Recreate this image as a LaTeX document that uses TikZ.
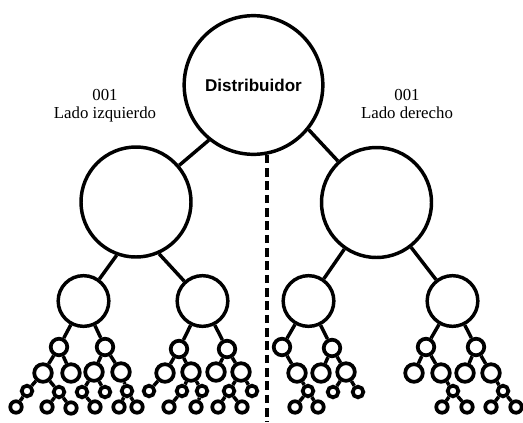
\documentclass[tikz,border=0pt]{standalone}
\usepackage{fontspec}
\setmainfont{Liberation Serif}
\newfontfamily\headsans{Liberation Sans}
\begin{document}
\begin{tikzpicture}[x=0.75pt,y=-0.75pt,
  ring/.style={circle, draw=black, fill=white, inner sep=0pt, line width=2.6pt},
  rootc/.style={ring, minimum size=104pt, font=\headsans\bfseries\fontsize{12.8}{14}\selectfont},
  lvlone/.style={ring, minimum size=82.5pt},
  lvltwo/.style={ring, minimum size=38pt},
  lvlthree/.style={ring, minimum size=12.4pt, line width=2.8pt},
  lvlfour/.style={ring, minimum size=13.2pt, line width=2.8pt},
  lvlfive/.style={ring, minimum size=8pt, line width=2.8pt},
  lvlsix/.style={ring, minimum size=8.6pt, line width=2.8pt},
  link/.style={line width=2.6pt},
  divider/.style={line width=2.7pt, dash pattern=on 6.4pt off 3.6pt},
  sidetext/.style={anchor=base, inner sep=0pt, font=\fontsize{12.6}{14}\selectfont}
]
\useasboundingbox (0,0) rectangle (523,422);

% dividing line between the two halves
\coordinate (dashend) at (266.5,422);

% upper levels
\node[rootc]  (root) at (253.5,85) {Distribuidor};
\node[lvlone] (La)   at (136,202) {};
\node[lvlone] (Lb)   at (376.5,202.5) {};
\node[lvltwo] (a)    at (83.5,301) {};
\node[lvltwo] (b)    at (202.5,301) {};
\node[lvltwo] (c)    at (308.5,301) {};
\node[lvltwo] (d)    at (452.5,301) {};

\draw[divider] (root.-79.5) -- (root.-79.5 |- dashend);

\draw[link] (root.-129) -- (La);
\draw[link] (root.-39)  -- (Lb);
\draw[link] (La.-110) -- (a);
\draw[link] (La.-66)  -- (b);
\draw[link] (Lb) -- (c);
\draw[link] (Lb) -- (d);

% labels of the two sides
\node[sidetext] (lnum) at (105,100) {001};
\node[sidetext] (ltxt) at (105,118) {Lado izquierdo};
\node[sidetext] (rnum) at (407,100) {001};
\node[sidetext] (rtxt) at (407,118) {Lado derecho};

% third level
\foreach \n/\x/\y in {a1/59/347, a2/105/347, b1/179/349, b2/227/349,
                      c1/282/347, c2/332/348, d1/426/347, d2/476/347}
  \node[lvlthree] (\n) at (\x,\y) {};
% fourth level
\foreach \n/\x/\y in {a11/43/373, a12/71/373, a21/94/372, a22/121/372,
                      b11/165/373, b12/191/372, b21/216/372, b22/241/372,
                      c11/297/373, c21/321/373, c22/346/372,
                      d11/414/373, d12/441/373, d21/465/373, d22/491/373}
  \node[lvlfour] (\n) at (\x,\y) {};
% fifth level
\foreach \n/\x/\y in {a111/27/391, a112/59/392, a211/82/392, a212/105/392, a221/127/391,
                      b111/149/391, b121/182/391, b122/202/391, b221/229/391, b222/252/391,
                      c111/308/391, c221/333/392, c222/358/392,
                      d121/453/391, d221/503/391}
  \node[lvlfive] (\n) at (\x,\y) {};
% sixth level
\foreach \n/\x/\y in {a1111/16/407, a1121/47/407, a1122/71/408, a2111/95/407,
                      a2211/119/407, a2212/137/407,
                      b1211/169/407, b1221/196/407, b2211/218/407, b2212/242/407,
                      c1111/295/407, c1112/318/407,
                      d1211/442/407, d1212/467/407, d2211/491/407, d2212/516/407}
  \node[lvlsix] (\n) at (\x,\y) {};

% branches of the lower levels
\foreach \p/\q in {a/a1, a/a2, b/b1, b/b2, c/c1, c/c2, d/d1, d/d2,
                   a1/a11, a1/a12, a2/a21, a2/a22,
                   b1/b11, b1/b12, b2/b21, b2/b22,
                   c1/c11, c2/c21, c2/c22,
                   d1/d11, d1/d12, d2/d21, d2/d22,
                   a11/a111, a11/a112, a21/a211, a21/a212, a22/a221,
                   b11/b111, b12/b121, b12/b122, b22/b221, b22/b222,
                   c11/c111, c22/c221, c22/c222,
                   d12/d121, d22/d221,
                   a111/a1111, a112/a1121, a112/a1122, a211/a2111,
                   a221/a2211, a221/a2212,
                   b121/b1211, b122/b1221, b221/b2211, b221/b2212,
                   c111/c1111, c111/c1112,
                   d121/d1211, d121/d1212, d221/d2211, d221/d2212}
  \draw[link] (\p) -- (\q);
\end{tikzpicture}
\end{document}
